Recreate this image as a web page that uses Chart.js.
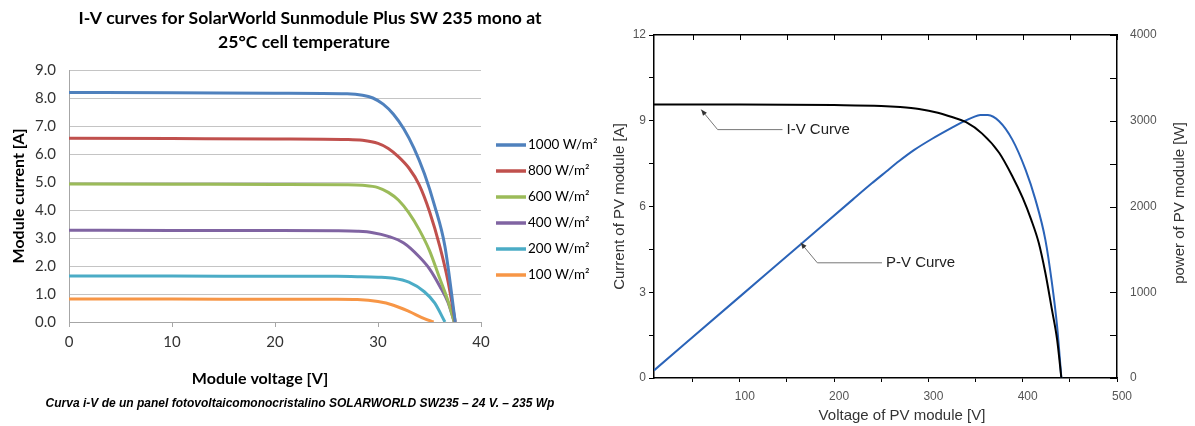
<!DOCTYPE html>
<html><head><meta charset="utf-8">
<script src="https://cdn.jsdelivr.net/npm/chart.js@4.4.1/dist/chart.umd.min.js"></script>
<style>
html,body{margin:0;padding:0;background:#fff;width:1195px;height:426px;overflow:hidden}
#left{position:absolute;left:0;top:0}
#right{position:absolute;left:600px;top:0}
</style></head><body>
<canvas id="left" width="600" height="426"></canvas>
<canvas id="right" width="595" height="426"></canvas>
<script>
// ---------- LEFT CHART DATA ----------
const leftTitle = ['I-V curves for SolarWorld Sunmodule Plus SW 235 mono at', '25°C cell temperature'];
const leftXTitle = 'Module voltage [V]';
const leftYTitle = 'Module current [A]';
const leftCaption = 'Curva i-V de un panel fotovoltaicomonocristalino SOLARWORLD SW235 – 24 V. – 235 Wp';
const irradianceLabels = ['1000 W/m²', '800 W/m²', '600 W/m²', '400 W/m²', '200 W/m²', '100 W/m²'];
const leftXTicks = [0, 10, 20, 30, 40];
const leftYTicks = [0, 1, 2, 3, 4, 5, 6, 7, 8, 9];

const v1000 = [0, 10, 20, 27, 28.5, 29.5, 30.5, 31.5, 32.5, 33.5, 34.5, 35.5, 36.5, 37.5];
const i1000 = [8.20, 8.19, 8.17, 8.15, 8.10, 8.00, 7.78, 7.42, 6.90, 6.20, 5.30, 4.15, 2.70, 0];
const v800 = [0, 10, 20, 27, 28.5, 30, 31, 32, 33, 34, 35, 36, 36.8, 37.5];
const i800 = [6.56, 6.55, 6.54, 6.52, 6.49, 6.38, 6.20, 5.90, 5.50, 4.90, 3.95, 2.70, 1.45, 0];
const v600 = [0, 10, 20, 27, 28.5, 30, 31, 32, 33, 34, 35, 36, 36.8, 37.4];
const i600 = [4.93, 4.92, 4.91, 4.90, 4.88, 4.80, 4.63, 4.35, 3.90, 3.30, 2.55, 1.55, 0.75, 0];
const v400 = [0, 10, 20, 26, 28, 29.5, 31, 32.5, 34, 35, 36, 36.8, 37.4];
const i400 = [3.28, 3.27, 3.27, 3.26, 3.24, 3.19, 3.06, 2.82, 2.33, 1.90, 1.28, 0.70, 0];
const v200 = [0, 10, 20, 26, 28, 30, 31.5, 33, 34.5, 35.5, 36.5];
const i200 = [1.64, 1.64, 1.63, 1.63, 1.62, 1.60, 1.56, 1.42, 1.08, 0.68, 0];
const v100 = [0, 10, 20, 26, 28, 30, 31.5, 33, 34.5, 35.4];
const i100 = [0.82, 0.82, 0.81, 0.81, 0.80, 0.73, 0.60, 0.38, 0.12, 0];

// ---------- RIGHT CHART DATA ----------
const rightXTitle = 'Voltage of PV module [V]';
const rightYTitle = 'Current of PV module [A]';
const rightY2Title = 'power of PV module [W]';
const rightXTicks = [50, 100, 150, 200, 250, 300, 350, 400, 450, 500];
const rightXLabels = [100, 200, 300, 400, 500];
const rightYTicks = [0, 1.5, 3, 4.5, 6, 7.5, 9, 10.5, 12];
const rightYLabels = [0, 3, 6, 9, 12];
const rightY2Ticks = [0, 500, 1000, 1500, 2000, 2500, 3000, 3500, 4000];
const rightY2Labels = [0, 1000, 2000, 3000, 4000];

const ivVoltage = [9, 100, 200, 250, 270, 290, 310, 325, 340, 357, 375, 389, 400, 409, 417, 424, 431, 436.5, 441];
const ivCurrent = [9.57, 9.57, 9.55, 9.52, 9.48, 9.41, 9.28, 9.13, 8.95, 8.55, 7.88, 7.06, 6.30, 5.54, 4.73, 3.68, 2.39, 1.34, 0];
const pvVoltage = [9, 100, 165, 220, 240, 255, 269, 285, 304, 325, 337, 347, 355, 363, 375, 389, 403, 413.5, 424, 431, 436.5, 441];
const pvPower = [89, 949, 1563, 2083, 2270, 2405, 2530, 2660, 2790, 2920, 2990, 3040, 3068, 3066, 2994, 2780, 2430, 2080, 1614, 1108, 602, 0];

const annotationTexts = ['I-V Curve', 'P-V Curve'];
const annotationTipV = [59, 164.6];
const annotationTipI = [9.39, 4.73];
const annotationElbowV = [76.5, 182.2];
const annotationElbowI = [8.69, 4.03];
const annotationTextV = [149.5, 255];

// ---------- LEFT CHART ----------
const leftColors = ['#4F81BD', '#C0504D', '#9BBB59', '#8064A2', '#4BACC6', '#F79646'];
const leftSeries = [[v1000, i1000], [v800, i800], [v600, i600], [v400, i400], [v200, i200], [v100, i100]];
const leftDatasets = irradianceLabels.map((lab, k) => ({
  label: lab,
  data: leftSeries[k][0].map((v, j) => ({x: v, y: leftSeries[k][1][j]})),
  borderColor: leftColors[k], backgroundColor: leftColors[k],
  borderWidth: 3, pointRadius: 0, showLine: true, fill: false,
  cubicInterpolationMode: 'monotone'
}));

const leftDecor = {
  id: 'leftDecor',
  afterDraw(chart) {
    const ctx = chart.ctx;
    ctx.save();
    ctx.textAlign = 'center'; ctx.textBaseline = 'middle';
    ctx.fillStyle = '#000';
    ctx.font = 'bold 17.6px Lato';
    ctx.fillText(leftTitle[0], 310, 18);
    ctx.fillText(leftTitle[1], 304, 42);
    ctx.font = 'bold 16px Lato';
    ctx.fillText(leftXTitle, 260, 379);
    ctx.font = 'italic bold 12px "Liberation Sans"';
    ctx.fillText(leftCaption, 300, 404);
    chart.data.datasets.forEach((ds, k) => {
      const y = 145 + k * 26;
      ctx.strokeStyle = ds.borderColor; ctx.lineWidth = 3.5;
      ctx.beginPath(); ctx.moveTo(496, y); ctx.lineTo(526, y); ctx.stroke();
      ctx.fillStyle = '#000'; ctx.font = '13.5px Lato'; ctx.textAlign = 'left';
      ctx.fillText(ds.label, 528, y);
    });
    ctx.restore();
  }
};

new Chart(document.getElementById('left'), {
  type: 'scatter',
  data: {datasets: leftDatasets},
  options: {
    responsive: false, animation: false, devicePixelRatio: 1,
    layout: {padding: {left: 0, right: 119, top: 70, bottom: 0}},
    plugins: {legend: {display: false}, title: {display: false}, tooltip: {enabled: false}},
    scales: {
      x: {
        type: 'linear', min: 0, max: 40,
        afterBuildTicks: s => { s.ticks = leftXTicks.map(v => ({value: v})); },
        afterFit: s => { s.height = 104; },
        ticks: {font: {family: 'Lato', size: 15}, color: '#333', padding: 6, maxRotation: 0},
        grid: {drawOnChartArea: false, drawTicks: true, tickLength: 5, color: '#a6a6a6'},
        border: {color: '#a6a6a6'}
      },
      y: {
        type: 'linear', min: 0, max: 9,
        afterBuildTicks: s => { s.ticks = leftYTicks.map(v => ({value: v})); },
        afterFit: s => { s.width = 69; },
        ticks: {font: {family: 'Lato', size: 15}, color: '#333', padding: 13, callback: v => Number(v).toFixed(1)},
        grid: {drawTicks: false, color: '#c4c4c4'},
        border: {color: '#a6a6a6'},
        title: {display: true, text: leftYTitle, font: {family: 'Lato', size: 16, weight: 'bold'}, color: '#000', padding: {top: 9, bottom: 0}}
      }
    }
  },
  plugins: [leftDecor]
});

// ---------- RIGHT CHART ----------
const rightDecor = {
  id: 'rightDecor',
  afterDraw(chart) {
    const {ctx, chartArea: ca, scales} = chart;
    ctx.save();
    ctx.strokeStyle = '#000'; ctx.lineWidth = 1;
    scales.x2.ticks.forEach(t => {
      const x = Math.round(scales.x2.getPixelForValue(t.value)) + 0.5;
      ctx.beginPath(); ctx.moveTo(x, ca.top); ctx.lineTo(x, ca.top + 5); ctx.stroke();
    });
    scales.y2.ticks.forEach(t => {
      const y = Math.round(scales.y2.getPixelForValue(t.value)) + 0.5;
      ctx.beginPath(); ctx.moveTo(ca.right, y); ctx.lineTo(ca.right - 7, y); ctx.stroke();
    });
    // annotations
    ctx.font = '15px "Liberation Sans"';
    ctx.textBaseline = 'middle'; ctx.textAlign = 'left';
    annotationTexts.forEach((txt, k) => {
      const tx = scales.x.getPixelForValue(annotationTipV[k]);
      const ty = scales.y.getPixelForValue(annotationTipI[k]);
      const ex = scales.x.getPixelForValue(annotationElbowV[k]);
      const ey = scales.y.getPixelForValue(annotationElbowI[k]);
      const lx = scales.x.getPixelForValue(annotationTextV[k]);
      ctx.strokeStyle = '#777'; ctx.lineWidth = 1;
      ctx.beginPath(); ctx.moveTo(lx - 4, ey); ctx.lineTo(ex, ey); ctx.lineTo(tx, ty); ctx.stroke();
      const ang = Math.atan2(ty - ey, tx - ex);
      ctx.fillStyle = '#333';
      ctx.beginPath();
      ctx.moveTo(tx, ty);
      ctx.lineTo(tx - 6 * Math.cos(ang) + 2.5 * Math.sin(ang), ty - 6 * Math.sin(ang) - 2.5 * Math.cos(ang));
      ctx.lineTo(tx - 6 * Math.cos(ang) - 2.5 * Math.sin(ang), ty - 6 * Math.sin(ang) + 2.5 * Math.cos(ang));
      ctx.closePath(); ctx.fill();
      ctx.fillStyle = '#222';
      ctx.fillText(txt, lx, ey);
    });
    // axis titles
    ctx.fillStyle = '#333';
    ctx.textAlign = 'center';
    ctx.fillText(rightXTitle, 302, 416);
    ctx.translate(580, 203); ctx.rotate(-Math.PI / 2);
    ctx.fillText(rightY2Title, 0, 0);
    ctx.restore();
  }
};

const tickFont = {family: 'Liberation Sans', size: 12};
new Chart(document.getElementById('right'), {
  type: 'scatter',
  data: {datasets: [
    {label: 'I-V Curve', data: ivVoltage.map((v, j) => ({x: v, y: ivCurrent[j]})), yAxisID: 'y', xAxisID: 'x',
     borderColor: '#000', backgroundColor: '#000', borderWidth: 2, pointRadius: 0, showLine: true, cubicInterpolationMode: 'monotone'},
    {label: 'P-V Curve', data: pvVoltage.map((v, j) => ({x: v, y: pvPower[j]})), yAxisID: 'y2', xAxisID: 'x',
     borderColor: '#2a63b8', backgroundColor: '#2a63b8', borderWidth: 2, pointRadius: 0, showLine: true, cubicInterpolationMode: 'monotone'}
  ]},
  options: {
    responsive: false, animation: false, devicePixelRatio: 1,
    layout: {padding: 0},
    plugins: {legend: {display: false}, title: {display: false}, tooltip: {enabled: false}},
    scales: {
      x: {
        axis: 'x', type: 'linear', position: 'bottom', min: 9, max: 500,
        afterBuildTicks: s => { s.ticks = rightXTicks.map(v => ({value: v})); },
        afterFit: s => { s.height = 48; },
        ticks: {font: tickFont, color: '#555', padding: 7, labelOffset: 5, maxRotation: 0, autoSkip: false,
                callback: v => rightXLabels.includes(v) ? String(v) : ''},
        grid: {drawOnChartArea: false, drawTicks: true, tickLength: 4, color: '#000'},
        border: {color: '#000', width: 1.5}
      },
      x2: {
        axis: 'x', type: 'linear', position: 'top', min: 9, max: 500,
        afterBuildTicks: s => { s.ticks = rightXTicks.map(v => ({value: v})); },
        afterFit: s => { s.height = 35; },
        ticks: {display: false},
        grid: {drawOnChartArea: false, drawTicks: false},
        border: {color: '#000', width: 1.5}
      },
      y: {
        axis: 'y', type: 'linear', position: 'left', min: 0, max: 12,
        afterBuildTicks: s => { s.ticks = rightYTicks.map(v => ({value: v})); },
        afterFit: s => { s.width = 54; },
        ticks: {font: tickFont, color: '#555', padding: 3, autoSkip: false,
                callback: v => rightYLabels.includes(v) ? String(v) : ''},
        grid: {drawOnChartArea: false, drawTicks: true, tickLength: 5, color: '#000'},
        border: {color: '#000', width: 1.5},
        title: {display: true, text: rightYTitle, font: {family: 'Liberation Sans', size: 15}, color: '#333', padding: {top: 11, bottom: 0}}
      },
      y2: {
        axis: 'y', type: 'linear', position: 'right', min: 0, max: 4000,
        afterBuildTicks: s => { s.ticks = rightY2Ticks.map(v => ({value: v})); },
        afterFit: s => { s.width = 78; },
        ticks: {font: tickFont, color: '#555', padding: 13, autoSkip: false,
                callback: v => rightY2Labels.includes(v) ? String(v) : ''},
        grid: {drawOnChartArea: false, drawTicks: false},
        border: {color: '#000', width: 1.5}
      }
    }
  },
  plugins: [rightDecor]
});
</script>
</body></html>
